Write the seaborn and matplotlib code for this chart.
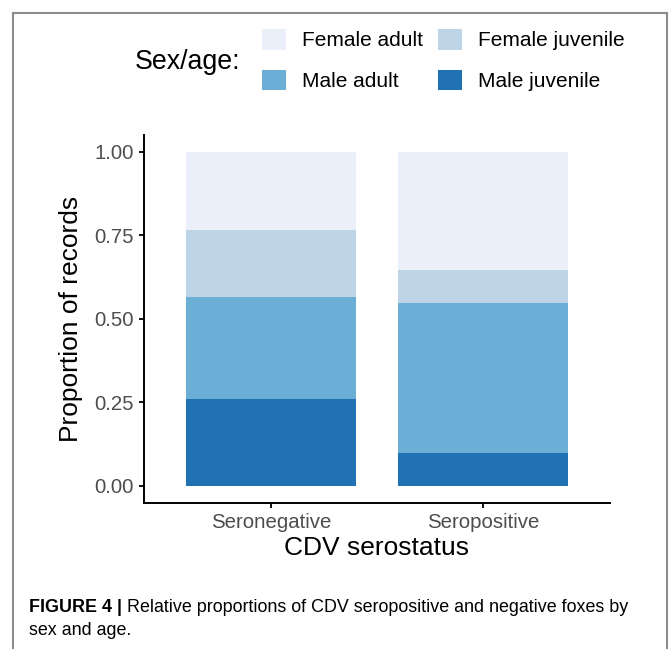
import numpy as np
import pandas as pd
import matplotlib.pyplot as plt
from matplotlib.patches import Patch, Rectangle
import seaborn as sns

# data (proportion of records)
status = ['Seronegative', 'Seropositive']
groups = ['Female adult', 'Female juvenile', 'Male adult', 'Male juvenile']
colors = ['#eaeffa', '#bdd5e6', '#6baed6', '#2171b5']
seroneg = [0.234, 0.200, 0.305, 0.261]
seropos = [0.354, 0.098, 0.448, 0.100]

rows = []
for s, vals in zip(status, [seroneg, seropos]):
    for g, v in zip(groups, vals):
        rows.append({'status': s, 'group': g, 'prop': v})
df = pd.DataFrame(rows)

sns.set_style('ticks')
plt.rcParams['font.family'] = ['Liberation Sans', 'DejaVu Sans']
plt.rcParams['text.color'] = 'black'
plt.rcParams['axes.labelcolor'] = 'black'

fig = plt.figure(figsize=(6.7, 6.49), dpi=100)
ax = fig.add_axes([144 / 670, 1 - 502.7 / 649, 466 / 670, 367.7 / 649])

sns.histplot(data=df, x='status', hue='group', weights='prop',
             multiple='stack', hue_order=groups, palette=colors,
             discrete=True, shrink=0.8, linewidth=0, alpha=1,
             legend=False, ax=ax)

ax.set_xlim(-0.6, 1.6)
ax.set_ylim(-0.05, 1.05)
ax.set_yticks([0, 0.25, 0.5, 0.75, 1.0])
ax.set_yticklabels(['0.00', '0.25', '0.50', '0.75', '1.00'])
ax.set_xlabel('CDV serostatus', fontsize=19, labelpad=3)
ax.set_ylabel('Proportion of records', fontsize=19, labelpad=8)
ax.tick_params(axis='both', labelsize=14.7, labelcolor='#4d4d4d',
               length=3.6, width=1.3, color='black', pad=4)
for sp in ['left', 'bottom']:
    ax.spines[sp].set_linewidth(1.4)
    ax.spines[sp].set_color('black')
sns.despine(ax=ax)

# legend, title on the left
fig.text(135 / 670, 1 - 62 / 649, 'Sex/age:', fontsize=19.3, va='center', ha='left')
order = [0, 2, 1, 3]
handles = [Patch(facecolor=colors[i], edgecolor='none', label=groups[i]) for i in order]
fig.legend(handles=handles, loc='upper left', bbox_to_anchor=(262 / 670, 1 - 29 / 649),
           ncol=2, frameon=False, fontsize=15, borderpad=0, handlelength=1.15,
           handleheight=1.15, handletextpad=0.77, columnspacing=0.72, labelspacing=0.92,
           borderaxespad=0)

# caption
cap = fig.text(29 / 670, 1 - 612 / 649, 'FIGURE 4 |', fontsize=12.9, fontweight='bold',
               va='baseline', ha='left')
ax.annotate(' Relative proportions of CDV seropositive and negative foxes by',
            xy=(1, 0), xycoords=cap, va='bottom', ha='left', fontsize=12.9,
            annotation_clip=False)
fig.text(29 / 670, 1 - 635 / 649, 'sex and age.', fontsize=12.9, va='baseline', ha='left')

# grey frame around the figure panel
fig.patches.append(Rectangle((13 / 670, -0.1), 654 / 670, 1.1 - 13 / 649,
                             transform=fig.transFigure, fill=False,
                             edgecolor='#8c8c8c', linewidth=1.5))

fig.savefig('out.png', dpi=100)
